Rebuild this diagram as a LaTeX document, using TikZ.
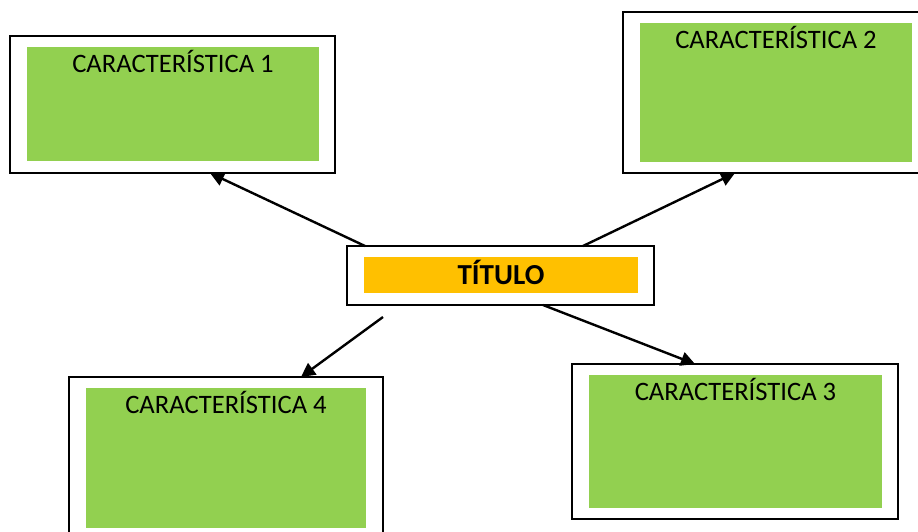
\documentclass[tikz,border=0pt]{standalone}
\usepackage{fontspec}
\setmainfont{Carlito}
\usetikzlibrary{arrows.meta}
\definecolor{cgreen}{HTML}{92D050}
\definecolor{cyellow}{HTML}{FFC000}
\begin{document}
\begin{tikzpicture}[x=1pt,y=-1pt,>={Triangle[length=14pt,width=14pt]},
  frame/.style={draw,line width=2.2pt,fill=white,inner sep=0pt,outer sep=0pt},
  panel/.style={fill=#1,inner sep=0pt,outer sep=0pt},
  caption/.style={anchor=base,inner sep=0pt,font=\fontsize{26.6}{30}\selectfont},
  link/.style={->,line width=2.4pt}]
\useasboundingbox (0,0) rectangle (918,531);
\clip (0,0) rectangle (918,531);
% frames and coloured panels, centre / width / height in pixels
\foreach \n/\cx/\cy/\w/\h/\gx/\gy/\gw/\gh in {c1/172.5/104.5/325/137/173/104/292/114,
    c2/776.5/92.5/307/161/776/92.5/272/139,c3/735/441.5/326/155/735.5/441.5/293/133,
    c4/226/461/314/168/226/458/280/140}{
  \node[frame,minimum width=\w pt,minimum height=\h pt] (\n out) at (\cx,\cy) {};
  \node[panel=cgreen,minimum width=\gw pt,minimum height=\gh pt] (\n in) at (\gx,\gy) {};
}
\foreach \n/\k in {c1/1,c2/2,c3/3,c4/4}
  \node[caption] (\n txt) at ([yshift=-25pt]\n in.north) {CARACTERÍSTICA \k};
% title
\node[frame,minimum width=307pt,minimum height=59pt] (tout) at (500.5,275.5) {};
\node[panel=cyellow,minimum width=274pt,minimum height=36pt] (tin) at (501,275) {};
\node[caption,font=\fontsize{29}{32}\selectfont\bfseries] (ttxt) at ([yshift=-9.5pt]tin.center) {TÍTULO};
% arrows
\coordinate (s1) at ([xshift=18pt]tout.north west);
\coordinate (s2) at ([xshift=236pt]tout.north west);
\coordinate (s3) at ([xshift=196pt]tout.south west);
\coordinate (s4) at (383,317);
\draw[link] (s1) -- ([xshift=200pt]c1out.south west);
\draw[link] (s2) -- ([xshift=112pt]c2out.south west);
\draw[link] (s3) -- ([xshift=123pt]c3out.north west);
\draw[link] (s4) -- ([xshift=232pt]c4out.north west);
\end{tikzpicture}
\end{document}
